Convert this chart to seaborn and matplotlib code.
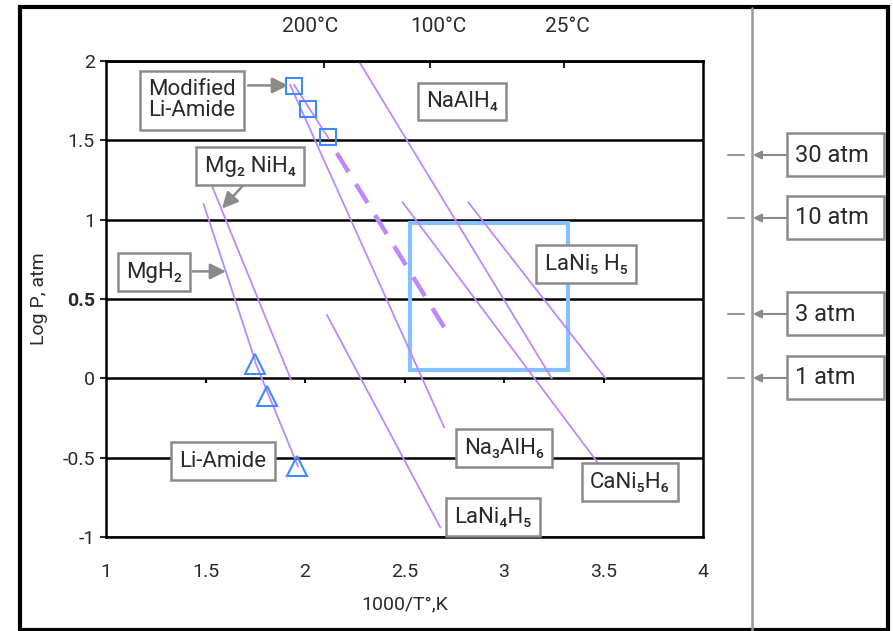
import numpy as np
import pandas as pd
import matplotlib
matplotlib.use('Agg')
import matplotlib.pyplot as plt
import seaborn as sns
from matplotlib.patches import Rectangle, FancyArrowPatch
from matplotlib.lines import Line2D

# van't Hoff lines (x = 1000/T, y = log P)
compounds = ['MgH2', 'Mg2NiH4', 'Li-Amide', 'Modified Li-Amide', 'Na3AlH6',
             'NaAlH4', 'CaNi5H6', 'LaNi5H6', 'LaNi4H5']
x_start = [1.49, 1.53, 1.75, 1.945, 1.925, 2.27, 2.49, 2.82, 2.11]
x_end = [1.75, 1.93, 1.965, 2.12, 2.70, 3.24, 3.47, 3.51, 2.68]
y_start = [1.10, 1.22, 0.10, 1.85, 1.85, 2.00, 1.11, 1.11, 0.40]
y_end = [0.11, -0.01, -0.555, 1.51, -0.31, 0.00, -0.53, 0.00, -0.94]

# modified Li-amide extrapolation (dashed)
ext_x = [2.16, 2.71]
ext_y = [1.42, 0.30]

# measured points
mod_x = [1.945, 2.015, 2.115]
mod_y = [1.845, 1.695, 1.52]
li_x = [1.75, 1.81, 1.96]
li_y = [0.09, -0.11, -0.55]

# target window
target_x = [2.53, 3.32]
target_y = [0.05, 0.98]

# temperature marks on top axis
temp_ticks = [2.095, 2.63, 3.30]
temp_label_pos = [2.025, 2.673, 3.317]
temp_labels = ['200°C', '100°C', '25°C']

# pressures on the right
atm_labels = ['30 atm', '10 atm', '3 atm', '1 atm']

# labels: text, box centre
labels = [
    ('Modified\nLi-Amide', (1.432, 1.752)),
    ('Mg₂ NiH₄', (1.724, 1.336)),
    ('MgH₂', (1.241, 0.668)),
    ('Li-Amide', (1.588, -0.523)),
    ('NaAlH₄', (2.789, 1.745)),
    ('LaNi₅ H₅', (3.412, 0.718)),
    ('Na₃AlH₆', (3.0, -0.441)),
    ('CaNi₅H₆', (3.633, -0.655)),
    ('LaNi₄H₅', (2.945, -0.876)),
]
# pointer arrows: start, tip
pointers = [
    ((1.714, 1.846), (1.915, 1.846)),
    ((1.688, 1.215), (1.583, 1.07)),
    ((1.437, 0.674), (1.603, 0.674)),
]

sns.set_theme(style='white')
plt.rcParams['font.family'] = ['Roboto', 'DejaVu Sans']
FS = 14
LFS = 16
purple = '#bf86ff'
blue = '#3d8bff'
gray = '#8a8a8a'
txt = '#2a2a2a'
W, H = 893, 631

fig = plt.figure(figsize=(W / 100, H / 100), dpi=100)
ax = fig.add_axes([106 / W, 1 - 537 / H, (703 - 106) / W, (537 - 61) / H])

lines = pd.DataFrame({
    'compound': compounds * 2,
    'x': x_start + x_end,
    'y': y_start + y_end,
})
sns.lineplot(data=lines, x='x', y='y', units='compound', estimator=None,
             sort=False, color=purple, lw=1.3, ax=ax, legend=False)
ax.plot(ext_x, ext_y, color=purple, lw=3.2, ls=(0, (5, 3.2)), solid_capstyle='butt')

ax.add_patch(Rectangle((target_x[0], target_y[0]), target_x[1] - target_x[0],
                       target_y[1] - target_y[0], fill=False, ec='#85c1ff', lw=3))

ax.plot(mod_x, mod_y, ls='none', marker='s', ms=11, mfc='none', mec=blue, mew=1.5)
ax.plot(li_x, li_y, ls='none', marker='^', ms=14, mfc='none', mec=blue, mew=1.5)

ax.set_xlim(1, 4)
ax.set_ylim(-1, 2)
xt = np.arange(1, 4.01, 0.5)
ax.set_xticks(xt, labels=[f'{v:g}' for v in xt])
yt = np.arange(-1, 2.01, 0.5)
ax.set_yticks(yt, labels=[f'{v:g}' for v in yt])
ax.get_yticklabels()[3].set_fontweight('bold')
ax.tick_params(axis='x', length=0, pad=19, labelsize=FS, colors=txt)
ax.tick_params(axis='y', direction='out', length=4, width=1.5, pad=4,
               labelsize=FS, left=True, colors=txt)
ax.yaxis.grid(True, color='black', lw=1.8)
for s in ax.spines.values():
    s.set_color('black')
    s.set_linewidth(1.8)
# ticks sitting on the log P = 0 line
ax.vlines(xt[1:-1], -0.03, 0, color='black', lw=1.5)

top = ax.secondary_xaxis('top')
top.set_xticks(temp_ticks, labels=['', '', ''])
top.tick_params(direction='in', length=5, width=1.5)
top.spines['top'].set_linewidth(1.8)
top_lab = ax.secondary_xaxis('top')
top_lab.set_xticks(temp_label_pos, labels=temp_labels)
top_lab.tick_params(length=0, pad=18, labelsize=FS + 1, colors=txt)
top_lab.spines['top'].set_visible(False)

ax.set_xlabel('1000/T°,K', fontsize=FS, labelpad=10, color=txt)
ax.set_ylabel('Log P, atm', fontsize=FS, labelpad=10, color=txt)

box = dict(boxstyle='square,pad=0.38', fc='white', ec=gray, lw=1.8)
for text, pos in labels:
    ax.text(pos[0], pos[1], text, ha='center', va='center', fontsize=LFS,
            color=txt, bbox=box, linespacing=1.0, zorder=5)
for start, tip in pointers:
    ax.annotate('', xy=tip, xytext=start,
                arrowprops=dict(arrowstyle='-|>', color=gray, lw=1.8,
                                mutation_scale=24, shrinkA=0, shrinkB=0))

# right-hand pressure scale
atm_y_px = [155, 218, 314, 378]
fig.add_artist(Line2D([752 / W, 752 / W], [0, 1 - 8 / H], color='#999999', lw=1.8))
for lab, py in zip(atm_labels, atm_y_px):
    yf = 1 - py / H
    fig.add_artist(Line2D([728 / W, 744 / W], [yf, yf], color='#999999', lw=1.5))
    fig.add_artist(FancyArrowPatch((787 / W, yf), (753 / W, yf), transform=fig.transFigure,
                                   arrowstyle='-|>', mutation_scale=12,
                                   color=gray, lw=1.5, shrinkA=0, shrinkB=0))
    fig.add_artist(Rectangle((787 / W, 1 - (py + 21) / H), 97 / W, 43 / H,
                             transform=fig.transFigure, fill=False,
                             ec=gray, lw=1.8))
    fig.text(795 / W, yf, lab, ha='left', va='center', fontsize=LFS + 1, color=txt)

# outer frame
fig.add_artist(Rectangle((20 / W, 1 - 630 / H), 868 / W, 623 / H,
                         transform=fig.transFigure, fill=False, ec='black', lw=3))

fig.savefig('out.png', dpi=100)
